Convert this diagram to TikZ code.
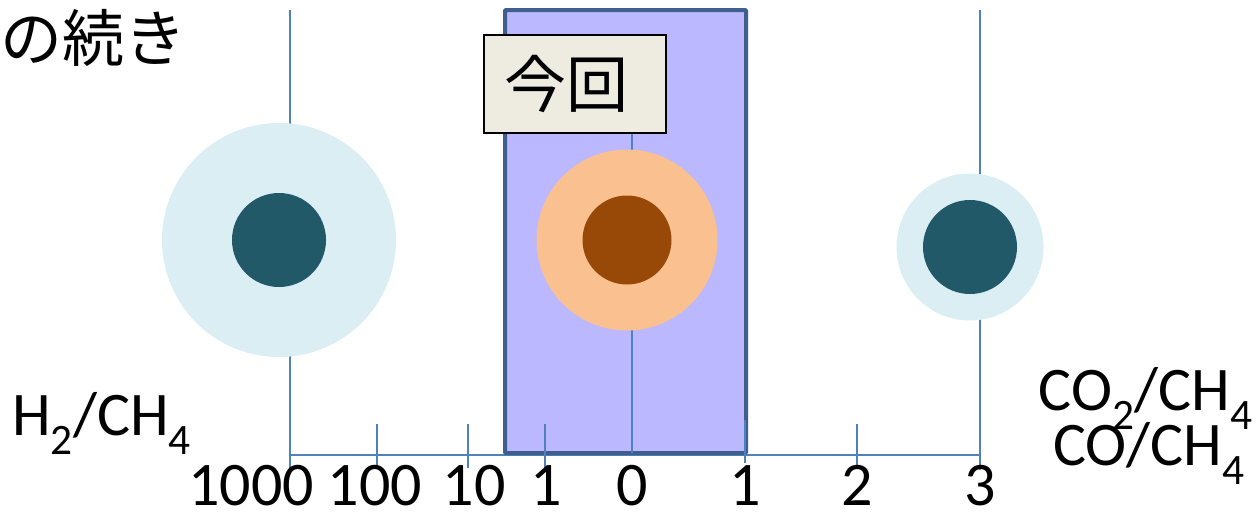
\documentclass[tikz,border=0pt]{standalone}
\usepackage{fontspec}
\setmainfont{Carlito}
\newfontfamily\jpfont{Noto Sans CJK JP}
\usepackage{tikz}
\usetikzlibrary{positioning}
\definecolor{axisblue}{HTML}{4F81BD}
\definecolor{lavender}{HTML}{BBB8FF}
\definecolor{frameblue}{HTML}{3F5F8F}
\definecolor{paleblue}{HTML}{DAEEF3}
\definecolor{darkteal}{HTML}{215968}
\definecolor{peach}{HTML}{FAC090}
\definecolor{rust}{HTML}{984807}
\definecolor{paper}{HTML}{EEECE1}

\begin{document}
\begin{tikzpicture}[
  x=1pt, y=-1pt,
  axis/.style={draw=axisblue, line width=1.6pt},
  blob/.style={circle, inner sep=0pt, draw=none},
  big/.style={font=\fontsize{62}{62}\selectfont, inner sep=0pt},
  ticklabel/.style={big, anchor=base},
  jp/.style={font=\jpfont\fontsize{62}{62}\selectfont, inner sep=0pt}
]
\useasboundingbox (0,0) rectangle (1257,514);
% axis and the long guide lines
\coordinate (left) at (290,455);
\coordinate (right) at (980,455);
\draw[axis] (left) -- (right);
\draw[axis] (290,10) -- (290,470);
\draw[axis] (980,10) -- (980,470);
% current range
\node[draw=frameblue, fill=lavender, line width=4pt, rounded corners=1pt,
      minimum width=241, minimum height=443, inner sep=0pt] (range) at (625.5,231.5) {};
% short ticks
\foreach \x in {377,468,545,857}
  \draw[axis] (\x,424) -- (\x,468);
\draw[axis] (745,420) -- (745,463);
\draw[axis] (632,40) -- (632,453);
\node[draw=black, fill=paper, line width=2pt, minimum width=182, minimum height=98,
      inner sep=0pt, jp] (now) at (575,84) {今回\hspace*{18pt}};
% circles
\node[blob, fill=paleblue, minimum size=234] (h2out) at (279,240) {};
\node[blob, fill=darkteal, minimum size=94] (h2in) at (h2out) {};
\node[blob, fill=peach, minimum size=181] (midout) at (627,240) {};
\node[blob, fill=rust, minimum size=89] (midin) at (midout) {};
\node[blob, fill=paleblue, minimum size=147] (coout) at (970,247) {};
\node[blob, fill=darkteal, minimum size=94] (coin) at (coout) {};
% labels
\node[jp, anchor=base west] (cont) at (0,61) {の続き};
\node[big, anchor=base west] (h2) at (12,435) {H\textsubscript{2}/CH\textsubscript{4}};
\node[big, anchor=base] (co2) at (1146,410) {CO\textsubscript{2}/CH\textsubscript{4}};
\node[big, anchor=base] (co) at (1149,465) {CO/CH\textsubscript{4}};
\node[ticklabel] (l1000) at (251,505) {1000};
\node[ticklabel] (l100) at (375,505) {100};
\node[ticklabel] (l10) at (474,505) {10};
\node[ticklabel] (l1a) at (546,505) {1};
\node[ticklabel] (l0) at (632,505) {0};
\node[ticklabel] (l1b) at (745,505) {1};
\node[ticklabel] (l2) at (857,505) {2};
\node[ticklabel] (l3) at (980,505) {3};
\end{tikzpicture}
\end{document}
